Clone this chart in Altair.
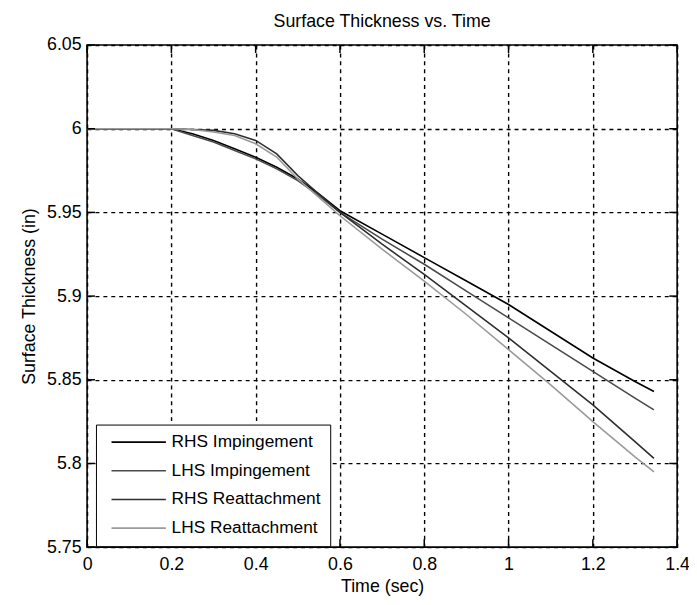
import altair as alt
import pandas as pd

# Time samples (sec)
time = [0.0, 0.1, 0.2, 0.25, 0.3, 0.35, 0.4, 0.45, 0.5, 0.55, 0.6,
        0.7, 0.8, 0.9, 1.0, 1.1, 1.2, 1.3, 1.345]

rhs_imp = [6.0, 6.0, 6.0, 5.997, 5.993, 5.988, 5.983, 5.977, 5.970, 5.961, 5.951,
           5.937, 5.923, 5.909, 5.895, 5.879, 5.863, 5.849, 5.843]
lhs_imp = [6.0, 6.0, 6.0, 5.996, 5.992, 5.987, 5.982, 5.976, 5.969, 5.960, 5.950,
           5.934, 5.919, 5.903, 5.887, 5.871, 5.855, 5.839, 5.832]
rhs_rea = [6.0, 6.0, 6.0, 5.9995, 5.999, 5.997, 5.993, 5.985, 5.972, 5.961, 5.950,
           5.931, 5.913, 5.894, 5.875, 5.855, 5.835, 5.813, 5.803]
lhs_rea = [6.0, 6.0, 6.0, 5.9995, 5.998, 5.996, 5.991, 5.983, 5.970, 5.959, 5.948,
           5.928, 5.909, 5.889, 5.868, 5.847, 5.825, 5.804, 5.795]

series_names = ["RHS Impingement", "LHS Impingement", "RHS Reattachment", "LHS Reattachment"]
series_values = [rhs_imp, lhs_imp, rhs_rea, lhs_rea]
series_colors = ["#000000", "#4a4a4a", "#2e2e2e", "#9a9a9a"]

x_ticks = [0, 0.2, 0.4, 0.6, 0.8, 1.0, 1.2, 1.4]
y_ticks = [5.75, 5.8, 5.85, 5.9, 5.95, 6.0, 6.05]

rows = []
for name, vals in zip(series_names, series_values):
    for t, v in zip(time, vals):
        rows.append({"Time": t, "Thickness": v, "Series": name})
df = pd.DataFrame(rows)

W, H = 597, 508
FONT = "Liberation Sans, Arial, Helvetica"

xscale = alt.Scale(domain=[0, 1.4], nice=False, zero=False)
yscale = alt.Scale(domain=[5.75, 6.05], nice=False, zero=False)

lines = alt.Chart(df).mark_line(strokeWidth=1.6).encode(
    x=alt.X("Time:Q", scale=xscale,
            axis=alt.Axis(values=x_ticks, title="Time (sec)", format="~g",
                          grid=True, gridColor="black", gridDash=[4, 4], gridWidth=1.4,
                          gridOpacity=1, domain=False, ticks=False, labelFlush=False,
                          labelPadding=9, labelFontSize=18, labelFont=FONT, labelColor="black",
                          titleFontSize=18, titleFont=FONT, titleFontWeight="normal",
                          titleColor="black", titlePadding=4, labelOverlap=False)),
    y=alt.Y("Thickness:Q", scale=yscale,
            axis=alt.Axis(values=y_ticks, title="Surface Thickness (in)", format="~g",
                          grid=True, gridColor="black", gridDash=[4, 4], gridWidth=1.4,
                          gridOpacity=1, domain=False, ticks=False, labelFlush=False,
                          labelPadding=6, labelFontSize=18, labelFont=FONT, labelColor="black",
                          titleFontSize=18, titleFont=FONT, titleFontWeight="normal",
                          titleColor="black", titlePadding=8, labelOverlap=False)),
    color=alt.Color("Series:N", sort=series_names,
                    scale=alt.Scale(domain=series_names, range=series_colors),
                    legend=alt.Legend(title=None, orient="none", legendX=9, legendY=384,
                                      symbolType="M-5,0L5,0", symbolSize=121,
                                      symbolStrokeWidth=1.6, symbolOffset=25.5,
                                      labelFontSize=17.5, labelFont=FONT, labelColor="black",
                                      strokeColor="black", fillColor="white",
                                      padding=9, rowPadding=10, labelOffset=24.5,
                                      cornerRadius=0)),
    order=alt.Order("Time:Q"),
)

tick_x = pd.DataFrame({"t": x_ticks})
tick_y = pd.DataFrame({"v": y_ticks})

bottom_ticks = alt.Chart(tick_x).mark_rule(color="black", strokeWidth=1.5).encode(
    x=alt.X("t:Q", scale=xscale), y=alt.value(H), y2=alt.value(H - 8))
top_ticks = alt.Chart(tick_x).mark_rule(color="black", strokeWidth=1.5).encode(
    x=alt.X("t:Q", scale=xscale), y=alt.value(0), y2=alt.value(8))
left_ticks = alt.Chart(tick_y).mark_rule(color="black", strokeWidth=1.5).encode(
    y=alt.Y("v:Q", scale=yscale), x=alt.value(0), x2=alt.value(8))
right_ticks = alt.Chart(tick_y).mark_rule(color="black", strokeWidth=1.5).encode(
    y=alt.Y("v:Q", scale=yscale), x=alt.value(W), x2=alt.value(W - 8))

chart = alt.layer(lines, bottom_ticks, top_ticks, left_ticks, right_ticks).properties(
    width=W, height=H,
    title=alt.TitleParams("Surface Thickness vs. Time", fontSize=18, font=FONT,
                          fontWeight="normal", color="black", anchor="middle", offset=5),
    autosize=alt.AutoSizeParams(type="none"),
    padding={"left": 80, "top": 34, "right": 12, "bottom": 50},
    background="white",
).configure_view(stroke="black", strokeWidth=1.6)

chart.save("out.html", embed_options={"renderer": "svg", "actions": False})
